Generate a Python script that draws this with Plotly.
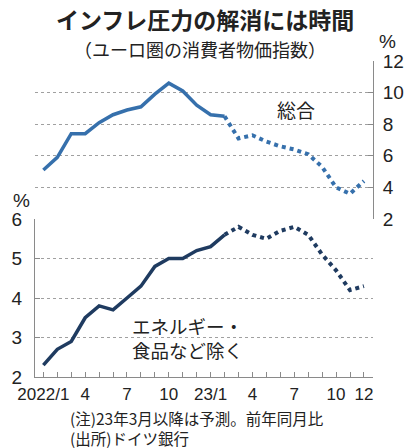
import plotly.graph_objects as go

# Euro area HICP, year-on-year % change (Deutsche Bank forecast from 2023/3)
months = [
    "2022-01", "2022-02", "2022-03", "2022-04", "2022-05", "2022-06",
    "2022-07", "2022-08", "2022-09", "2022-10", "2022-11", "2022-12",
    "2023-01", "2023-02", "2023-03", "2023-04", "2023-05", "2023-06",
    "2023-07", "2023-08", "2023-09", "2023-10", "2023-11", "2023-12",
]
headline = [5.1, 5.9, 7.4, 7.4, 8.1, 8.6, 8.9, 9.1, 9.9, 10.6, 10.1, 9.2,
            8.6, 8.5, 7.1, 7.3, 6.9, 6.6, 6.4, 6.1, 5.3, 4.0, 3.6, 4.4]
core = [2.3, 2.7, 2.9, 3.5, 3.8, 3.7, 4.0, 4.3, 4.8, 5.0, 5.0, 5.2,
        5.3, 5.6, 5.8, 5.6, 5.5, 5.7, 5.8, 5.6, 5.1, 4.7, 4.2, 4.3]
n_actual = 14  # through 2023/2

x_tick_text = ["2022/1", "", "", "4", "", "", "7", "", "", "10", "", "",
               "23/1", "", "", "4", "", "", "7", "", "", "10", "", "12"]
top_ticks = [2, 4, 6, 8, 10, 12]
bottom_ticks = [2, 3, 4, 5, 6]

HEAD_COLOR = "#3670ac"
CORE_COLOR = "#1f3b60"
AXIS_COLOR = "#8a8a8a"
GRID_COLOR = "#a0a0a0"
TEXT_COLOR = "#222222"
NUM_FONT = "Liberation Sans Narrow, Liberation Sans, Arial Narrow, sans-serif"
JP_FONT = "Noto Sans CJK JP, sans-serif"

fig = go.Figure()

# headline: actual (solid) then forecast (dotted)
fig.add_trace(go.Scatter(x=months[:n_actual], y=headline[:n_actual], mode="lines",
                         line=dict(color=HEAD_COLOR, width=3.5), xaxis="x", yaxis="y"))
fig.add_trace(go.Scatter(x=months[n_actual - 1:], y=headline[n_actual - 1:], mode="lines",
                         line=dict(color=HEAD_COLOR, width=4, dash="dot"), xaxis="x", yaxis="y"))
# core: actual (solid) then forecast (dotted)
fig.add_trace(go.Scatter(x=months[:n_actual], y=core[:n_actual], mode="lines",
                         line=dict(color=CORE_COLOR, width=3.5), xaxis="x", yaxis="y2"))
fig.add_trace(go.Scatter(x=months[n_actual - 1:], y=core[n_actual - 1:], mode="lines",
                         line=dict(color=CORE_COLOR, width=4, dash="dot"), xaxis="x", yaxis="y2"))

fig.update_layout(
    width=416, height=448,
    margin=dict(l=29, r=28, t=61, b=71),
    paper_bgcolor="white", plot_bgcolor="white",
    showlegend=False,
    font=dict(family=NUM_FONT, color=TEXT_COLOR),
    xaxis=dict(
        type="category", categoryorder="array", categoryarray=months,
        range=[-0.6, 23.65], anchor="y2",
        tickmode="array", tickvals=months, ticktext=x_tick_text,
        ticks="inside", ticklen=5, tickcolor=AXIS_COLOR, tickwidth=1,
        showline=True, linecolor=AXIS_COLOR, linewidth=1,
        showgrid=False, zeroline=False,
        tickfont=dict(size=17, family=NUM_FONT, color=TEXT_COLOR),
        ticklabelstandoff=2,
    ),
    yaxis=dict(
        domain=[0.5, 1], range=[2, 12], side="right", anchor="x",
        tickmode="array", tickvals=top_ticks,
        ticks="inside", ticklen=5, tickcolor=AXIS_COLOR,
        showline=True, linecolor=AXIS_COLOR, linewidth=1,
        showgrid=True, gridcolor=GRID_COLOR, griddash="dot", gridwidth=1,
        zeroline=False,
        tickfont=dict(size=19, family=NUM_FONT, color=TEXT_COLOR),
        ticklabelstandoff=5,
    ),
    yaxis2=dict(
        domain=[0, 0.5], range=[2, 6], side="left", anchor="x",
        tickmode="array", tickvals=bottom_ticks,
        ticks="inside", ticklen=5, tickcolor=AXIS_COLOR,
        showline=True, linecolor=AXIS_COLOR, linewidth=1,
        showgrid=True, gridcolor=GRID_COLOR, griddash="dot", gridwidth=1,
        zeroline=False,
        tickfont=dict(size=19, family=NUM_FONT, color=TEXT_COLOR),
        ticklabelstandoff=8,
    ),
)

annotations = [
    dict(text="<b>インフレ圧力の解消には時間</b>", x=210, y=19, size=23),
    dict(text="（ユーロ圏の消費者物価指数）", x=204, y=49, size=18),
    dict(text="%", x=403, y=42, size=19, family=NUM_FONT),
    dict(text="%", x=15, y=201, size=19, family=NUM_FONT),
    dict(text="総合", x=306, y=110, size=19),
    dict(text="エネルギー・<br>食品など除く", x=191, y=338, size=18.5),
    dict(text="(注)23年3月以降は予測。前年同月比<br>(出所)ドイツ銀行", x=65, y=428,
         size=15.5, xanchor="left", align="left"),
]
for a in annotations:
    fig.add_annotation(
        text=a["text"], xref="paper", yref="paper",
        x=(a["x"] - 29) / (416 - 29 - 28),
        y=1 - (a["y"] - 61) / (448 - 61 - 71),
        xanchor=a.get("xanchor", "center"), yanchor="middle",
        align=a.get("align", "center"),
        showarrow=False, borderpad=0,
        font=dict(size=a["size"], family=a.get("family", JP_FONT), color=TEXT_COLOR),
    )

fig.write_html("out.html")
